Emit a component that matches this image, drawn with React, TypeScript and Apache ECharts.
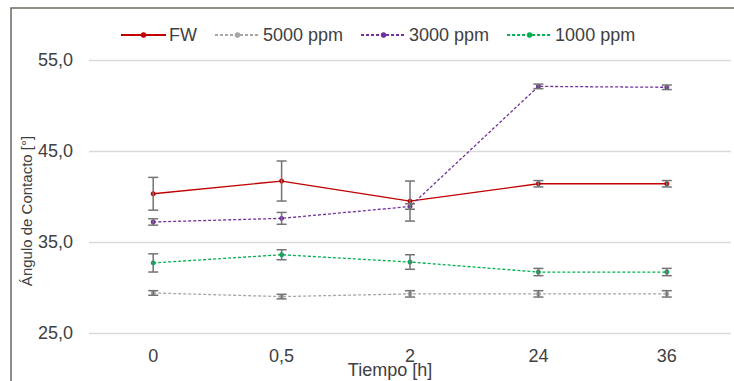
import React, { useEffect, useRef } from "react";
import * as echarts from "echarts";

const categories = ["0", "0,5", "2", "24", "36"];
const seriesNames = ["FW", "5000 ppm", "3000 ppm", "1000 ppm"];
const fwValues = [40.3, 41.7, 39.5, 41.4, 41.4];
const ppm5000Values = [29.4, 29.0, 29.3, 29.3, 29.3];
const ppm3000Values = [37.2, 37.6, 38.9, 52.1, 52.0];
const ppm1000Values = [32.7, 33.6, 32.8, 31.7, 31.7];
const fwErrors = [1.8, 2.2, 2.2, 0.35, 0.35];
const ppm5000Errors = [0.25, 0.25, 0.35, 0.35, 0.35];
const ppm3000Errors = [0.35, 0.65, 0.3, 0.25, 0.25];
const ppm1000Errors = [1.0, 0.55, 0.8, 0.4, 0.4];
const yTicks = { min: 25, max: 55, interval: 10 };
const yAxisTitle = "Ángulo de Contacto [°]";
const xAxisTitle = "Tiempo [h]";

const FONT = "'Liberation Sans', Arial, sans-serif";
const TEXT = "#404040";

export default function App() {
  const ref = useRef<HTMLDivElement>(null);
  useEffect(() => {
    document.body.style.margin = "0";
    const chart = echarts.init(ref.current!, null, { renderer: "svg" });
    const colors = ["#c00000", "#a6a6a6", "#7030a0", "#00b050"];
    const valuesList = [fwValues, ppm5000Values, ppm3000Values, ppm1000Values];
    const errList = [fwErrors, ppm5000Errors, ppm3000Errors, ppm1000Errors];

    const lineSeries = valuesList.map((vals, i) => ({
      name: seriesNames[i],
      type: "line",
      data: vals,
      symbol: "circle",
      symbolSize: 5,
      itemStyle: { color: colors[i] },
      lineStyle: {
        color: colors[i],
        width: 1.3,
        type: i === 0 ? "solid" : [3, 2],
      },
      z: 3,
    }));

    const errData: number[][] = [];
    valuesList.forEach((vals, i) => {
      vals.forEach((v, j) => {
        errData.push([j, v - errList[i][j], v + errList[i][j]]);
      });
    });

    const errSeries = {
      type: "custom",
      name: "err",
      data: errData,
      z: 4,
      renderItem: (params: any, api: any) => {
        const x = api.value(0);
        const lo = api.coord([x, api.value(1)]);
        const hi = api.coord([x, api.value(2)]);
        const w = 5;
        const style = { stroke: "#737373", lineWidth: 1.5 };
        return {
          type: "group",
          children: [
            { type: "line", shape: { x1: lo[0], y1: lo[1], x2: hi[0], y2: hi[1] }, style },
            { type: "line", shape: { x1: lo[0] - w, y1: lo[1], x2: lo[0] + w, y2: lo[1] }, style },
            { type: "line", shape: { x1: hi[0] - w, y1: hi[1], x2: hi[0] + w, y2: hi[1] }, style },
          ],
        };
      },
    };

    chart.setOption({
      animation: false,
      textStyle: { fontFamily: FONT },
      grid: { left: 89, right: 3, top: 60, bottom: 48 },
      legend: {
        data: seriesNames,
        left: 115,
        top: 21,
        itemWidth: 45,
        itemHeight: 7,
        itemGap: 17,
        textStyle: { fontSize: 18, color: TEXT, fontFamily: FONT, padding: [0, 0, 0, -2] },
      },
      xAxis: {
        type: "category",
        data: categories,
        boundaryGap: true,
        axisLine: { show: false },
        axisTick: { show: false },
        axisLabel: { fontSize: 18, color: TEXT, margin: 14, fontFamily: FONT },
      },
      yAxis: {
        type: "value",
        min: yTicks.min,
        max: yTicks.max,
        interval: yTicks.interval,
        axisLine: { show: false },
        axisTick: { show: false },
        splitLine: { lineStyle: { color: "#d9d9d9", width: 1.3 } },
        axisLabel: {
          fontSize: 18,
          color: TEXT,
          margin: 16,
          fontFamily: FONT,
          formatter: (v: number) => v.toFixed(1).replace(".", ","),
        },
      },
      graphic: [
        {
          type: "rect",
          shape: { x: 11, y: 8, width: 800, height: 400 },
          style: { fill: "none", stroke: "#6b6b60", lineWidth: 1.5 },
          silent: true,
        },
        {
          type: "text",
          x: 26,
          y: 211,
          rotation: Math.PI / 2,
          style: {
            text: yAxisTitle,
            fontSize: 15,
            fill: TEXT,
            fontFamily: FONT,
            align: "center",
            verticalAlign: "middle",
          },
        },
        {
          type: "text",
          x: 390,
          y: 370,
          style: {
            text: xAxisTitle,
            fontSize: 18,
            fill: TEXT,
            fontFamily: FONT,
            align: "center",
            verticalAlign: "middle",
          },
        },
      ],
      series: [...lineSeries, errSeries],
    });
    return () => chart.dispose();
  }, []);
  return <div ref={ref} style={{ width: 734, height: 381 }} />;
}
